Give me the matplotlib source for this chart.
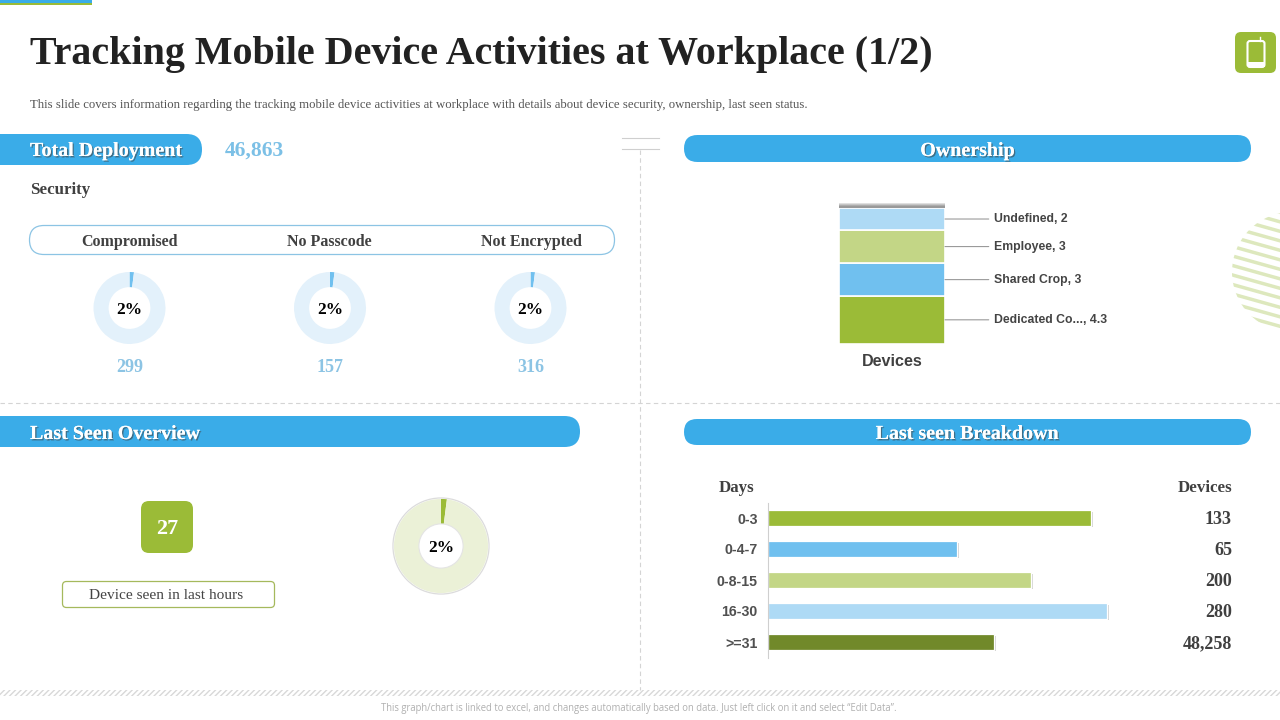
import matplotlib
matplotlib.use("Agg")
import matplotlib.pyplot as plt
import matplotlib.patheffects as pe
from matplotlib.patches import FancyBboxPatch, Rectangle, Circle

SERIF = "Liberation Serif"
SANS = "Liberation Sans"

BLUE = "#3aace8"
LIGHT_BLUE = "#aedaf5"
MID_BLUE = "#70c0ef"
GREEN = "#9bbb37"
LIGHT_GREEN = "#c3d686"
DARK_GREEN = "#71892a"

security_names = ["Compromised", "No Passcode", "Not Encrypted"]
security_share = [2, 2, 2]
security_counts = ["299", "157", "316"]
total_deployment = "46,863"

ownership_names = ["Dedicated Co...", "Shared Crop", "Employee", "Undefined"]
ownership_values = [4.3, 3, 3, 2]
ownership_colors = [GREEN, MID_BLUE, LIGHT_GREEN, LIGHT_BLUE]

seen_hours = "27"
seen_share = 2

days = ["0-3", "0-4-7", "0-8-15", "16-30", ">=31"]
day_bars = [323, 189, 263, 339, 226]  # drawn length does not follow the labels
day_devices = ["133", "65", "200", "280", "48,258"]
day_colors = [GREEN, MID_BLUE, LIGHT_GREEN, LIGHT_BLUE, DARK_GREEN]

fig = plt.figure(figsize=(12.8, 7.2), dpi=100)


def px_axes(x0, y0, x1, y1, **kw):
    # axes from a box in picture pixels, y measured from the top
    return fig.add_axes([x0 / 1280, 1 - y1 / 720, (x1 - x0) / 1280, (y1 - y0) / 720], **kw)


bg = px_axes(0, 0, 1280, 720)
bg.set_xlim(0, 1280)
bg.set_ylim(720, 0)
bg.axis("off")


def pill(x0, y0, x1, y1, color=BLUE, fc=None, lw=0, rad=None):
    rad = (y1 - y0) / 2 if rad is None else rad
    p = FancyBboxPatch((x0 + rad, y0 + rad), x1 - x0 - 2 * rad, y1 - y0 - 2 * rad,
                       boxstyle=f"round,pad={rad}", fc=fc or color, ec=color, lw=lw)
    bg.add_patch(p)


def head(x, y, s, ha="left"):
    t = bg.text(x, y, s, ha=ha, va="center", color="white", fontsize=14.4,
                family=SERIF, weight="bold")
    t.set_path_effects([pe.withSimplePatchShadow(offset=(1, -1), shadow_rgbFace="#444444", alpha=0.6), pe.Normal()])


# top strip, title, icon
bg.add_patch(Rectangle((0, 0), 92, 3, fc=BLUE, lw=0))
bg.add_patch(Rectangle((0, 3), 92, 2, fc=GREEN, lw=0))
bg.text(30, 54.5, "Tracking Mobile Device Activities at Workplace (1/2)", fontsize=28.8, family=SERIF,
        weight="bold", color="#222222", va="center")
bg.text(30, 105, "This slide covers information regarding the tracking mobile device activities at workplace "
        "with details about device security, ownership, last seen status.",
        fontsize=9.2, family=SERIF, color="#555555", va="center")
pill(1235, 32, 1276, 73, color=GREEN, rad=6)
pill(1247.5, 41, 1264.5, 67, color="white", fc=GREEN, lw=1.5, rad=2.5)
bg.add_patch(Rectangle((1247.5, 62), 17, 5, fc="white", lw=0))
bg.plot([1260, 1260], [37, 41], color="white", lw=1)

# dividers
bg.plot([640, 640], [150, 690], color="#d4d4d4", lw=0.8, ls=(0, (4, 3)))
bg.plot([0, 1280], [403, 403], color="#d4d4d4", lw=0.8, ls=(0, (4, 3)))
bg.plot([622, 659], [138, 138], color="#cfcfcf", lw=0.8)
bg.plot([622, 659], [148.5, 148.5], color="#cfcfcf", lw=0.8)

# section headers
pill(-30, 134, 202, 165)
head(30, 151, "Total Deployment")
bg.text(225, 151, total_deployment, fontsize=15.5, family=SERIF, weight="bold", color="#7cc0e6", va="center")
pill(684, 135, 1251, 162)
head(967.5, 151, "Ownership", ha="center")
pill(-30, 416, 580, 447)
head(30, 434, "Last Seen Overview")
pill(684, 419, 1251, 445)
head(967, 434, "Last seen Breakdown", ha="center")

# security row
bg.text(30, 190.5, "Security", fontsize=12.2, family=SERIF, weight="bold", color="#404040", va="center")
pill(29.5, 225.5, 614.5, 254.5, color="#8cc4e4", fc="white", lw=0.9)
for name, share, count, cx, lx in zip(security_names, security_share, security_counts,
                                      [129.5, 330, 530.5], [130, 329.5, 531]):
    bg.text(lx, 241.5, name, fontsize=11.5, family=SERIF, weight="bold", color="#404040", ha="center", va="center")
    ax = px_axes(cx - 36, 272, cx + 36, 344)
    ax.pie([share, 100 - share], colors=[MID_BLUE, "#e3f1fb"], startangle=90, counterclock=False,
           radius=1, wedgeprops=dict(width=0.42, lw=0))
    ax.set_xlim(-1, 1)
    ax.set_ylim(-1, 1)
    ax.text(0, -0.05, f"{share}%", fontsize=12.5, family=SERIF, weight="bold", color="black", ha="center", va="center")
    bg.text(cx, 367.5, count, fontsize=13, family=SERIF, weight="bold", color="#8cc4e4", ha="center", va="center")

# ownership stacked column
ax = px_axes(839, 208, 945, 343.5)
bottom = 0
for name, val, col in zip(ownership_names, ownership_values, ownership_colors):
    ax.bar(0, val, bottom=bottom, width=1, color=col, edgecolor="white", lw=1.2)
    ax.annotate(f"{name}, {val}", xy=(0.5, bottom + val / 2), xycoords="data",
                xytext=(35.5, 0), textcoords="offset points", fontsize=8.8, family=SANS, weight="bold",
                color="#444444", va="center", ha="left",
                arrowprops=dict(arrowstyle="-", color="#9a9a9a", lw=0.8, shrinkA=2, shrinkB=0))
    bottom += val
ax.set_xlim(-0.5, 0.5)
ax.set_ylim(0, bottom)
ax.axis("off")
for i, a in enumerate([0.25, 0.45, 0.65, 0.8, 0.8]):
    bg.add_patch(Rectangle((839, 203 + i), 106, 1.2, fc="#808080", alpha=a, lw=0))
bg.text(892, 362, "Devices", fontsize=11.6, family=SANS, weight="bold", color="#404040", ha="center", va="center")

# striped circle at the right edge
clip = Circle((1292, 272), 60, transform=bg.transData)
for i in range(18):
    y = 186 + 9.5 * i
    ln, = bg.plot([1220, 1290], [y, y + 19.6], color="#dde8bd", lw=2.5, solid_capstyle="butt")
    ln.set_clip_path(clip)

# last seen overview
pill(141, 501, 193, 553, color=GREEN, rad=8)
bg.text(167, 528.5, seen_hours, fontsize=16, family=SERIF, weight="bold", color="white", ha="center", va="center")
pill(62.5, 581.5, 274.5, 607.5, color="#a5b95c", fc="white", lw=0.9, rad=4)
bg.text(166, 595.5, "Device seen in last hours", fontsize=11.1, family=SERIF, color="#444444", ha="center", va="center")
ax = px_axes(392, 497, 490, 595)
ax.pie([seen_share, 100 - seen_share], colors=[GREEN, "#ebf1d7"], startangle=90, counterclock=False,
       radius=0.98, wedgeprops=dict(width=0.52, lw=0))
ax.add_patch(Circle((0, 0), 1.0, fc="none", ec="#dcdcdc", lw=0.9))
ax.add_patch(Circle((0, 0), 0.46, fc="none", ec="#e4e4e4", lw=0.8))
ax.set_xlim(-1.02, 1.02)
ax.set_ylim(-1.02, 1.02)
ax.text(0, -0.04, f"{seen_share}%", fontsize=12.5, family=SERIF, weight="bold", color="black", ha="center", va="center")

# last seen breakdown
bg.text(736, 487.5, "Days", fontsize=12.2, family=SERIF, weight="bold", color="#404040", ha="center", va="center")
bg.text(1232, 487.5, "Devices", fontsize=12.2, family=SERIF, weight="bold", color="#404040", ha="right", va="center")
ax = px_axes(768, 502.5, 1168, 657.5)
bars = ax.barh(days, day_bars, height=0.5, color=day_colors, edgecolor="white", lw=0.9)
for b in bars:
    b.set_path_effects([pe.withSimplePatchShadow(offset=(1.5, -1), shadow_rgbFace="#888888", alpha=0.4), pe.Normal()])
ax.set_xlim(0, 400)
ax.set_ylim(4.5, -0.5)
ax.xaxis.set_visible(False)
for s in ["top", "right", "bottom"]:
    ax.spines[s].set_visible(False)
ax.spines["left"].set_color("#cfcfcf")
ax.tick_params(axis="y", length=0, pad=7.5)
for t in ax.get_yticklabels():
    t.set_fontsize(10.2)
    t.set_family(SANS)
    t.set_weight("bold")
    t.set_color("#505050")
for i, d in enumerate(day_devices):
    bg.text(1232, 519.5 + i * 31, d, fontsize=13, family=SERIF, weight="bold", color="#404040", ha="right", va="center")

# footer
bg.add_patch(Rectangle((0, 690), 1280, 6, fc="white", ec="#d8d8d8", hatch="//////", lw=0))
bg.text(639, 708.5, "This graph/chart is linked to excel, and changes automatically based on data. Just left click on it and select \u201cEdit Data\u201d.",
        fontsize=6.87, family="Open Sans", color="#b0b0b0", ha="center", va="center")

fig.savefig("out.png", dpi=100)
